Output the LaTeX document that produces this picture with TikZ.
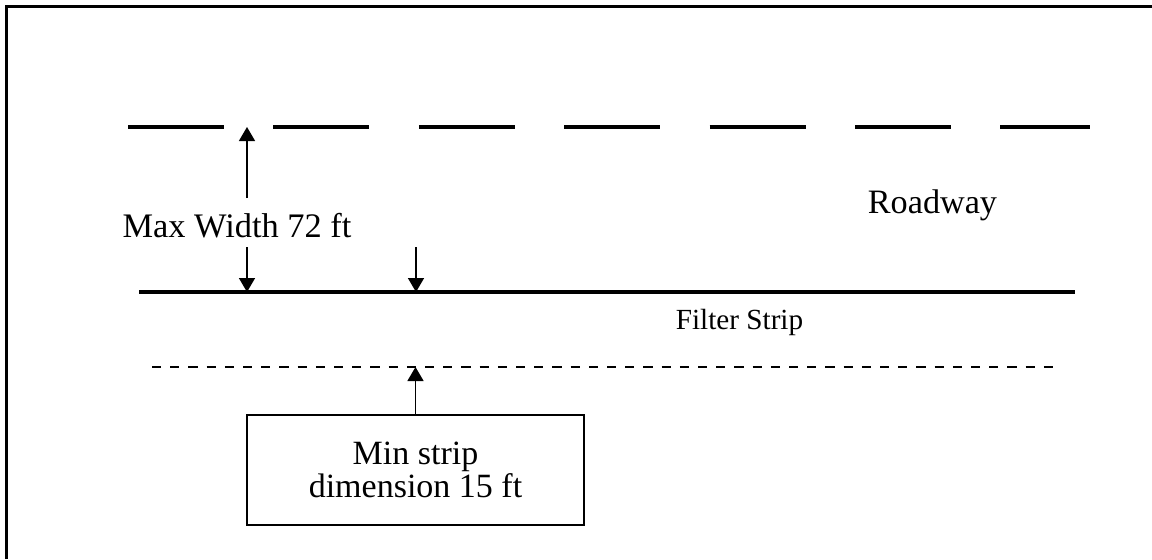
\documentclass[tikz,border=0pt]{standalone}
\usepackage{fontspec}
\setmainfont{Liberation Serif}
\usetikzlibrary{arrows.meta}
\begin{document}
\begin{tikzpicture}[x=0.5pt,y=-0.5pt,
  frame/.style={line width=1.5pt},
  lane/.style={line width=1.9pt, dash pattern=on 48pt off 24.7pt},
  edgeline/.style={line width=1.7pt},
  stripline/.style={line width=1pt, dash pattern=on 4.6pt off 4.5pt},
  dimarrow/.style={line width=0.75pt, -{Triangle[length=7pt,width=8pt]}},
  bigtext/.style={inner sep=0pt, font=\fontsize{17.2}{18}\selectfont},
  smalltext/.style={inner sep=0pt, font=\fontsize{14.6}{16}\selectfont},
  infobox/.style={draw, line width=0.75pt, minimum width=168.5pt, minimum height=55pt,
    align=center, inner sep=0pt, font=\fontsize{17}{16.5}\selectfont}
]
\useasboundingbox (0,0) rectangle (1152,559);
% frame (only top and left edges visible)
\draw[frame] (6.5,559) -- (6.5,6) -- (1152,6);
% lines
\coordinate (laneL) at (128,127);
\coordinate (laneR) at (1090,127);
\coordinate (edgeL) at (139,292);
\coordinate (edgeR) at (1075,292);
\coordinate (stripL) at (152,367);
\coordinate (stripR) at (1058,367);
\draw[lane] (laneL) -- (laneR);
\draw[edgeline] (edgeL) -- (edgeR);
\draw[stripline] (stripL) -- (stripR);
% texts
\node[bigtext, anchor=base] (maxw) at (237,237) {Max Width 72 ft};
\node[bigtext, anchor=base, font=\fontsize{17.1}{18}\selectfont] (road) at (932.5,213) {Roadway};
\node[smalltext, anchor=base] (filter) at (739.5,329) {Filter Strip};
\node[infobox] (minbox) at (415.5,470) {Min strip\\dimension 15 ft};
% dimension arrows
\coordinate (a1s) at (247,198);
\coordinate (a1e) at (247,127);
\coordinate (a2s) at (247,247);
\coordinate (a2e) at (247,292);
\coordinate (a3s) at (416,247);
\coordinate (a3e) at (416,292);
\coordinate (a4e) at (415.5,367);
\draw[dimarrow] (a1s) -- (a1e);
\draw[dimarrow] (a2s) -- (a2e);
\draw[dimarrow] (a3s) -- (a3e);
\draw[dimarrow] (minbox.north) -- (a4e);
\end{tikzpicture}
\end{document}
